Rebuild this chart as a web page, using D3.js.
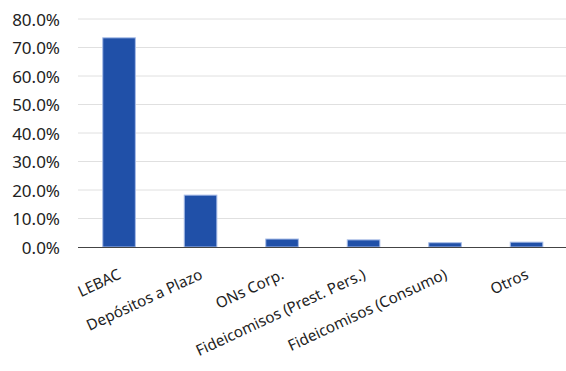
<!DOCTYPE html>
<html><head><meta charset="utf-8">
<script src="https://cdn.jsdelivr.net/npm/d3@7"></script>
<style>body{margin:0;background:#fff}svg{display:block}</style>
</head><body><svg id="c" width="566" height="371"></svg>
<script>
const categories = ["LEBAC","Depósitos a Plazo","ONs Corp.","Fideicomisos (Prest. Pers.)","Fideicomisos (Consumo)","Otros"];
const values = [0.734,0.182,0.028,0.025,0.015,0.017];
const yTicks = [0,0.1,0.2,0.3,0.4,0.5,0.6,0.7,0.8];

const svg = d3.select("#c");
const m = {l:78, r:566, t:19, b:247};
const x = d3.scaleBand().domain(categories).range([78.3,567.3]).paddingInner(0.6).paddingOuter(0.3);
const y = d3.scaleLinear().domain([0,0.8]).range([m.b,m.t]);
const font = "'Noto Sans', 'Open Sans', sans-serif";

svg.append("g").selectAll("line").data(yTicks.slice(1)).join("line")
  .attr("x1",m.l).attr("x2",566).attr("y1",d=>y(d)).attr("y2",d=>y(d))
  .attr("stroke","#e0e0e0").attr("stroke-width",1);

const yAxis = svg.append("g").attr("transform",`translate(${m.l},0)`)
  .call(d3.axisLeft(y).tickValues(yTicks).tickFormat(d3.format(".1%")).tickSize(0).tickPadding(18));
yAxis.select(".domain").remove();
yAxis.selectAll("text").attr("font-family",font).attr("font-size",17).attr("fill","#222").attr("dy","0.38em");

svg.append("g").selectAll("rect").data(values).join("rect")
  .attr("x",(d,i)=>x(categories[i])).attr("width",x.bandwidth())
  .attr("y",d=>y(d)).attr("height",d=>y(0)-y(d))
  .attr("fill","#2050a8").attr("stroke","#a8bde8").attr("stroke-width",1);

const xAxis = svg.append("g").attr("transform",`translate(0,${m.b})`)
  .call(d3.axisBottom(x).tickSize(0).tickPadding(0));
xAxis.select(".domain").attr("d",`M${m.l},0.5H566`).attr("stroke","#444").attr("stroke-width",1.2);
xAxis.selectAll("text").attr("font-family",font).attr("font-size",15.2).attr("fill","#222")
  .attr("text-anchor","end").attr("dy",0)
  .attr("transform","translate(3,31) rotate(-25)");
</script></body></html>
